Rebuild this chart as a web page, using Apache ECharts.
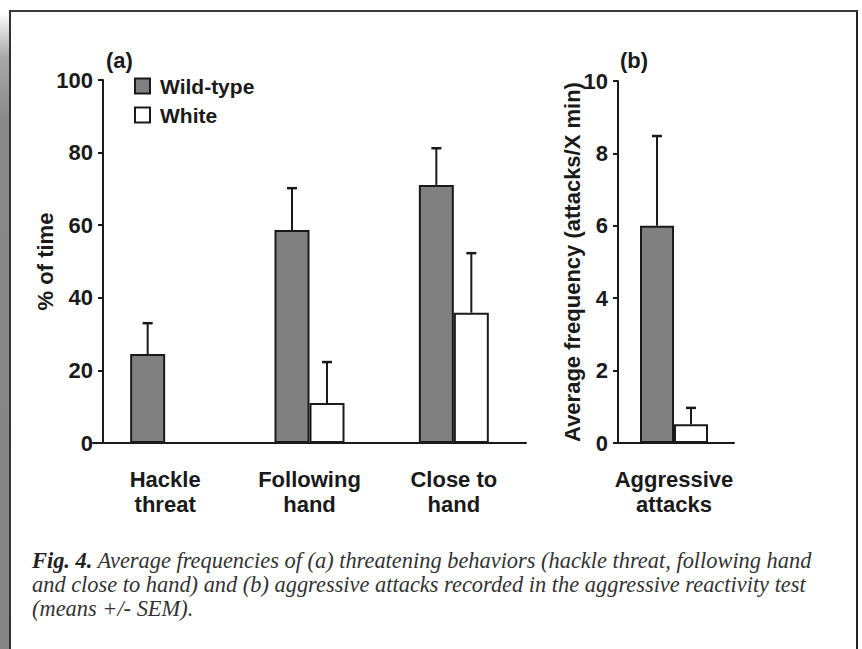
<!DOCTYPE html>
<html>
<head>
<meta charset="utf-8">
<script src="https://cdn.jsdelivr.net/npm/echarts@6/dist/echarts.min.js"></script>
<style>
  html, body { margin: 0; padding: 0; background: #fff; }
  #wrap { position: relative; width: 862px; height: 649px; overflow: hidden; background: #fff; }
  #shadow { position: absolute; left: 0; top: 12px; width: 9px; height: 700px;
    background: linear-gradient(to bottom, #ffffff 0px, #a8a8a8 45px, #888 110px, #858585 700px); }
  #frame { position: absolute; left: 9px; top: 10px; width: 845px; height: 700px;
    border-top: 2px solid #3a3a3a; border-left: 2px solid #333; border-right: 2px solid #222; }
  #chart { position: absolute; left: 0; top: 0; width: 862px; height: 649px; }
  #caption { position: absolute; left: 32px; top: 549px; width: 825px;
    font-family: "Liberation Serif", "DejaVu Serif", serif; font-style: italic; font-size: 22.4px;
    line-height: 24px; color: #333; white-space: nowrap; }
  #caption b { font-weight: bold; color: #222; }
</style>
</head>
<body>
<div id="wrap">
  <div id="shadow"></div>
  <div id="frame"></div>
  <div id="chart"></div>
  <div id="caption"><b>Fig. 4.</b> Average frequencies of (a) threatening behaviors (hackle threat, following hand<br>and close to hand) and (b) aggressive attacks recorded in the aggressive reactivity test<br>(means +/- SEM).</div>
</div>
<script>
// ---- Data ----
const seriesNames = ['Wild-type', 'White'];
const catsA = ['Hackle\nthreat', 'Following\nhand', 'Close to\nhand'];
const wildA = [24.5, 58.7, 71.1];
const wildErrA = [33.0, 70.2, 81.2];
const whiteA = [null, 11.0, 35.9];
const whiteErrA = [null, 22.3, 52.3];
const ticksA = [0, 20, 40, 60, 80, 100];

const catsB = ['Aggressive\nattacks'];
const wildB = [6.0];
const wildErrB = [8.48];
const whiteB = [0.52];
const whiteErrB = [0.97];
const ticksB = [0, 2, 4, 6, 8, 10];

const yNameA = '% of time';
const yNameB = 'Average frequency (attacks/X min)';

// ---- Chart ----
const chart = echarts.init(document.getElementById('chart'), null, { renderer: 'svg' });
const FONT = '"Liberation Sans", Arial, Helvetica, sans-serif';
const INK = '#1a1a1a';
const BARW = 35;
const FS = 22;

function errData(vals, errs) {
  const out = [];
  vals.forEach((v, i) => { if (v != null && errs[i] != null) out.push([i, v, errs[i]]); });
  return out;
}
function errSeries(xi, yi, data, off) {
  return {
    type: 'custom', xAxisIndex: xi, yAxisIndex: yi, z: 1, silent: true,
    data: data,
    renderItem: function (params, api) {
      const b = api.coord([api.value(0), api.value(1)]);
      const t = api.coord([api.value(0), api.value(2)]);
      const x = b[0] + off;
      return { type: 'group', children: [
        { type: 'line', shape: { x1: x, y1: b[1], x2: x, y2: t[1] }, style: { stroke: INK, lineWidth: 2 } },
        { type: 'line', shape: { x1: x - 5, y1: t[1], x2: x + 5, y2: t[1] }, style: { stroke: INK, lineWidth: 2.5 } }
      ]};
    }
  };
}
function yAxisCfg(gi, max, interval, name, offset, nameGap, margin) {
  return {
    type: 'value', gridIndex: gi, min: 0, max: max, interval: interval, offset: offset,
    name: name, nameLocation: 'middle', nameGap: nameGap, nameMoveOverlap: false,
    nameTextStyle: { fontFamily: FONT, fontWeight: 'bold', fontSize: FS, color: INK },
    axisLine: { show: true, lineStyle: { color: INK, width: 2 } },
    axisTick: { show: true, length: 5, lineStyle: { color: INK, width: 2 } },
    axisLabel: { fontFamily: FONT, fontWeight: 'bold', fontSize: FS, color: INK, margin: margin },
    splitLine: { show: false }
  };
}
function xAxisCfg(gi, cats) {
  return {
    type: 'category', gridIndex: gi, data: cats,
    axisLine: { show: true, lineStyle: { color: INK, width: 2 } },
    axisTick: { show: false },
    axisLabel: { fontFamily: FONT, fontWeight: 'bold', fontSize: FS, color: INK, margin: 24, lineHeight: 25, interval: 0 }
  };
}
const barStyleWild = { color: '#808080', borderColor: INK, borderWidth: 2 };
const barStyleWhite = { color: '#ffffff', borderColor: INK, borderWidth: 2 };

chart.setOption({
  animation: false,
  backgroundColor: 'transparent',
  title: [
    { text: '(a)', left: 101, top: 44, textStyle: { fontFamily: FONT, fontWeight: 'bold', fontSize: 22, color: INK } },
    { text: '(b)', left: 615, top: 44, textStyle: { fontFamily: FONT, fontWeight: 'bold', fontSize: 22, color: INK } }
  ],
  legend: {
    data: seriesNames, orient: 'vertical', left: 129, top: 70, itemWidth: 15, itemHeight: 15, itemGap: 7,
    icon: 'rect',
    textStyle: { fontFamily: FONT, fontWeight: 'bold', fontSize: 21, color: INK, lineHeight: 22, padding: [0, 0, 0, 5] }
  },
  grid: [
    { left: 93, top: 80, width: 433, height: 363 },
    { left: 614, top: 81, width: 120, height: 362 }
  ],
  xAxis: [ xAxisCfg(0, catsA), xAxisCfg(1, catsB) ],
  yAxis: [
    yAxisCfg(0, ticksA[ticksA.length - 1], ticksA[1] - ticksA[0], yNameA, -10, 47, 10),
    yAxisCfg(1, ticksB[ticksB.length - 1], ticksB[1] - ticksB[0], yNameB, -4, 35, 10)
  ],
  series: [
    { name: seriesNames[0], type: 'bar', xAxisIndex: 0, yAxisIndex: 0, data: wildA, barWidth: BARW, barGap: '0%', itemStyle: barStyleWild, z: 2 },
    { name: seriesNames[1], type: 'bar', xAxisIndex: 0, yAxisIndex: 0, data: whiteA, barWidth: BARW, barGap: '0%', itemStyle: barStyleWhite, z: 2 },
    { name: seriesNames[0], type: 'bar', xAxisIndex: 1, yAxisIndex: 1, data: wildB, barWidth: 34, barGap: '0%', itemStyle: barStyleWild, z: 2 },
    { name: seriesNames[1], type: 'bar', xAxisIndex: 1, yAxisIndex: 1, data: whiteB, barWidth: 34, barGap: '0%', itemStyle: barStyleWhite, z: 2 },
    errSeries(0, 0, errData(wildA, wildErrA), -BARW / 2),
    errSeries(0, 0, errData(whiteA, whiteErrA), BARW / 2),
    errSeries(1, 1, errData(wildB, wildErrB), -17),
    errSeries(1, 1, errData(whiteB, whiteErrB), 17)
  ]
});
</script>
</body>
</html>
